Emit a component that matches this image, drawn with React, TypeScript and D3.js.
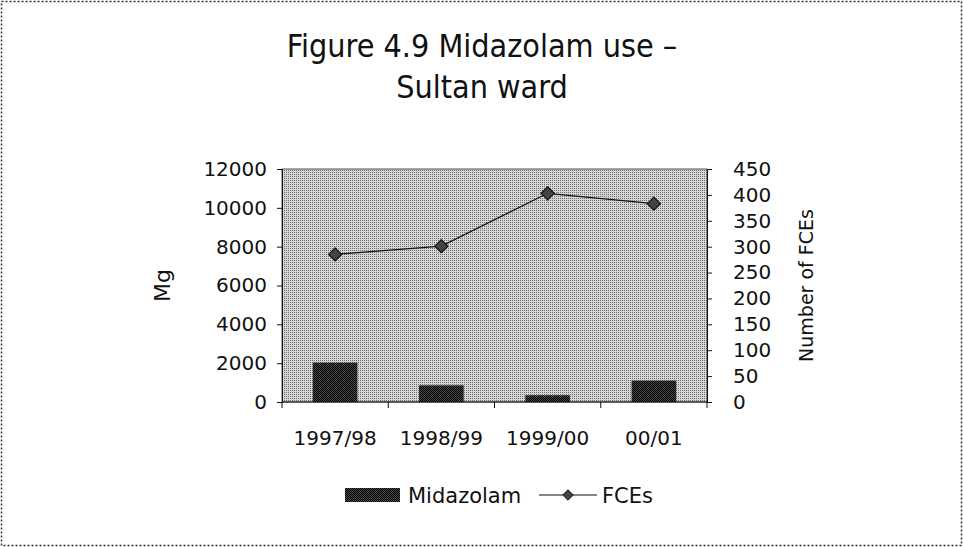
import React, { useEffect, useRef } from 'react';
import * as d3 from 'd3';

const years = ['1997/98', '1998/99', '1999/00', '00/01'];
const midazolam = [2030, 860, 350, 1100];
const fces = [285, 301, 403, 383];
const leftTicks = [0, 2000, 4000, 6000, 8000, 10000, 12000];
const rightTicks = [0, 50, 100, 150, 200, 250, 300, 350, 400, 450];

const W = 963;
const H = 547;

const App: React.FC = () => {
  const svgRef = useRef<SVGSVGElement>(null);

  useEffect(() => {
    if (!svgRef.current) return;
    const svg = d3.select(svgRef.current);
    svg.selectAll('*').remove();

    const left = 282, right = 707, top = 169, bottom = 402;
    const font = 'DejaVu Sans';

    const x = d3.scaleBand<string>().domain(years).range([left, right]).paddingInner(0.58).paddingOuter(0.29);
    const xb = d3.scaleBand<string>().domain(years).range([left, right]);
    const yL = d3.scaleLinear().domain([0, 12000]).range([bottom, top]);
    const yR = d3.scaleLinear().domain([0, 450]).range([bottom, top]);

    const defs = svg.append('defs');
    const bg = defs.append('pattern').attr('id', 'bgdots').attr('width', 2).attr('height', 2)
      .attr('patternUnits', 'userSpaceOnUse');
    bg.append('rect').attr('width', 2).attr('height', 2).attr('fill', '#d6d6d6');
    bg.append('rect').attr('width', 1).attr('height', 1).attr('fill', '#6e6e6e');
    const bar = defs.append('pattern').attr('id', 'bardots').attr('width', 2).attr('height', 2)
      .attr('patternUnits', 'userSpaceOnUse');
    bar.append('rect').attr('width', 2).attr('height', 2).attr('fill', '#4a4a4a');
    bar.append('rect').attr('width', 1).attr('height', 1).attr('fill', '#000');
    bar.append('rect').attr('x', 1).attr('y', 1).attr('width', 1).attr('height', 1).attr('fill', '#000');

    // outer dashed frame
    svg.append('rect').attr('x', 1.5).attr('y', 1.5).attr('width', W - 3).attr('height', H - 3)
      .attr('fill', 'white').attr('stroke', '#333').attr('stroke-width', 1.5).attr('stroke-dasharray', '2,2');

    // title
    const title = svg.append('text').attr('text-anchor', 'middle').attr('font-family', 'DejaVu Sans Condensed')
      .attr('font-size', 32).attr('fill', '#111');
    title.append('tspan').attr('x', 482).attr('y', 57).text('Figure 4.9 Midazolam use –');
    title.append('tspan').attr('x', 482).attr('y', 98).text('Sultan ward');

    // plot area
    svg.append('rect').attr('x', left).attr('y', top).attr('width', right - left).attr('height', bottom - top)
      .attr('fill', 'url(#bgdots)').attr('stroke', '#555').attr('stroke-width', 1);

    // bars
    svg.append('g').selectAll('rect').data(midazolam).join('rect')
      .attr('x', (_, i) => x(years[i])!)
      .attr('y', d => yL(d))
      .attr('width', x.bandwidth())
      .attr('height', d => bottom - yL(d))
      .attr('fill', 'url(#bardots)');

    // axes
    const axL = svg.append('g').attr('transform', `translate(${left},0)`)
      .call(d3.axisLeft(yL).tickValues(leftTicks).tickSize(5).tickPadding(10).tickFormat(d3.format('d')));
    const axR = svg.append('g').attr('transform', `translate(${right},0)`)
      .call(d3.axisRight(yR).tickValues(rightTicks).tickSize(5).tickPadding(22).tickFormat(d3.format('d')));
    [axL, axR].forEach(a => {
      a.select('.domain').attr('stroke', '#111');
      a.selectAll('line').attr('stroke', '#111');
      a.selectAll('text').attr('font-family', font).attr('font-size', 20).attr('fill', '#111');
    });
    axR.selectAll('text').attr('text-anchor', 'start').attr('x', 26);

    const xAxis = svg.append('g').attr('transform', `translate(0,${bottom})`);
    xAxis.append('line').attr('x1', left).attr('x2', right).attr('stroke', '#111');
    xAxis.selectAll('line.tick').data(d3.range(years.length + 1)).join('line').attr('class', 'tick')
      .attr('x1', i => left + i * xb.step()).attr('x2', i => left + i * xb.step())
      .attr('y1', 0).attr('y2', 6).attr('stroke', '#111');
    xAxis.selectAll('text').data(years).join('text')
      .attr('x', d => xb(d)! + xb.bandwidth() / 2).attr('y', 43)
      .attr('text-anchor', 'middle').attr('font-family', font).attr('font-size', 20).attr('fill', '#111')
      .text(d => d);

    // axis titles
    svg.append('text').attr('transform', `translate(170,${(top + bottom) / 2}) rotate(-90)`)
      .attr('text-anchor', 'middle').attr('font-family', font).attr('font-size', 22).attr('fill', '#111').text('Mg');
    svg.append('text').attr('transform', `translate(813,${(top + bottom) / 2}) rotate(-90)`)
      .attr('text-anchor', 'middle').attr('font-family', font).attr('font-size', 19).attr('fill', '#111').text('Number of FCEs');

    // line
    const cx = (i: number) => x(years[i])! + x.bandwidth() / 2;
    const line = d3.line<number>().x((_, i) => cx(i)).y(d => yR(d));
    svg.append('path').datum(fces).attr('d', line).attr('fill', 'none').attr('stroke', '#111').attr('stroke-width', 1.2);
    const diamond = d3.symbol().type(d3.symbolDiamond2).size(110);
    svg.append('g').selectAll('path').data(fces).join('path')
      .attr('transform', (d, i) => `translate(${cx(i)},${yR(d)})`)
      .attr('d', diamond).attr('fill', '#444').attr('stroke', '#111').attr('stroke-width', 1.2);

    // legend
    const ly = 496;
    const lg = svg.append('g');
    lg.append('rect').attr('x', 345).attr('y', ly - 8).attr('width', 55).attr('height', 14).attr('fill', 'url(#bardots)');
    lg.append('text').attr('x', 408).attr('y', ly + 7).attr('font-family', font).attr('font-size', 21).attr('fill', '#111').text('Midazolam');
    lg.append('line').attr('x1', 539).attr('x2', 597).attr('y1', ly - 1).attr('y2', ly - 1).attr('stroke', '#111').attr('stroke-width', 1.2);
    lg.append('path').attr('transform', `translate(568,${ly - 1})`).attr('d', d3.symbol().type(d3.symbolDiamond2).size(70))
      .attr('fill', '#444').attr('stroke', '#111');
    lg.append('text').attr('x', 602).attr('y', ly + 7).attr('font-family', font).attr('font-size', 21).attr('fill', '#111').text('FCEs');
  }, []);

  return <svg ref={svgRef} width={W} height={H} style={{ position: 'absolute', left: 0, top: 0 }} />;
};

export default App;
